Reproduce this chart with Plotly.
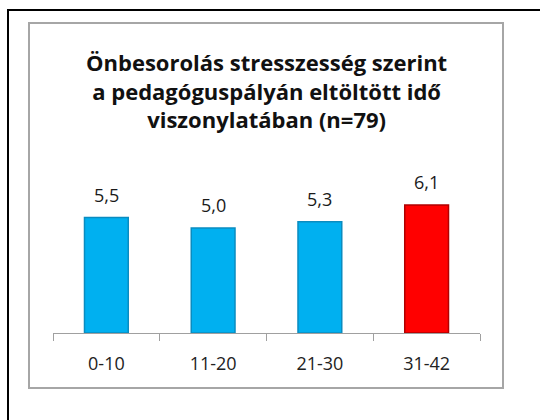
import plotly.graph_objects as go

categories = ["0-10", "11-20", "21-30", "31-42"]
values = [5.5, 5.0, 5.3, 6.1]
bar_colors = ["#00B0F0", "#00B0F0", "#00B0F0", "#FF0000"]
edge_colors = ["#0A8CC0", "#0A8CC0", "#0A8CC0", "#B00000"]
title_lines = [
    "Önbesorolás stresszesség szerint",
    "a pedagóguspályán eltöltött idő",
    "viszonylatában (n=79)",
]

W, H = 540, 420
L, R, T, B = 53, 60, 186, 87
pw, ph = W - L - R, H - T - B


# pixel -> paper coords (paper = plot area)
def px_x(x):
    return (x - L) / pw


def px_y(y):
    return (H - B - y) / ph


fig = go.Figure()
fig.add_trace(go.Bar(
    x=categories,
    y=values,
    marker=dict(color=bar_colors, line=dict(color=edge_colors, width=1.5)),
    hoverinfo="skip",
))

annotations = [
    dict(x=c, y=v, text=f"{v:.1f}".replace(".", ","), showarrow=False,
         yanchor="bottom", yshift=9, font=dict(size=18, color="#1a1a1a"))
    for c, v in zip(categories, values)
]
annotations.append(dict(
    x=px_x(266), y=px_y(91), xref="paper", yref="paper",
    text="<b>" + "<br>".join(title_lines) + "</b>",
    showarrow=False, xanchor="center", yanchor="middle",
    font=dict(size=22, color="#111111"),
))

fig.update_layout(
    width=W, height=H,
    margin=dict(l=L, r=R, t=T, b=B),
    paper_bgcolor="white", plot_bgcolor="white",
    font=dict(family="Open Sans, Noto Sans, sans-serif", color="#222222"),
    showlegend=False,
    bargap=0.59,
    annotations=annotations,
    shapes=[
        dict(type="rect", xref="paper", yref="paper",
             x0=px_x(29), x1=px_x(503), y0=px_y(388), y1=px_y(23),
             line=dict(color="#A6A6A6", width=2), layer="below"),
        # outer frame: only left and top edges are inside the picture
        dict(type="line", xref="paper", yref="paper",
             x0=px_x(8), x1=px_x(8), y0=px_y(420), y1=px_y(9),
             line=dict(color="#000000", width=2), layer="below"),
        dict(type="line", xref="paper", yref="paper",
             x0=px_x(7), x1=px_x(540), y0=px_y(10), y1=px_y(10),
             line=dict(color="#000000", width=2), layer="below"),
    ],
)
fig.update_xaxes(
    showline=True, linecolor="#A0A0A0", linewidth=1,
    ticks="outside", tickson="boundaries", ticklen=7, tickcolor="#A0A0A0",
    ticklabelstandoff=14,
    tickfont=dict(size=18, color="#222222"),
    showgrid=False,
)
fig.update_yaxes(range=[0, 7], visible=False, showgrid=False)

fig.write_html("out.html", config={"displayModeBar": False},
               post_script="document.body.style.margin='0';")
